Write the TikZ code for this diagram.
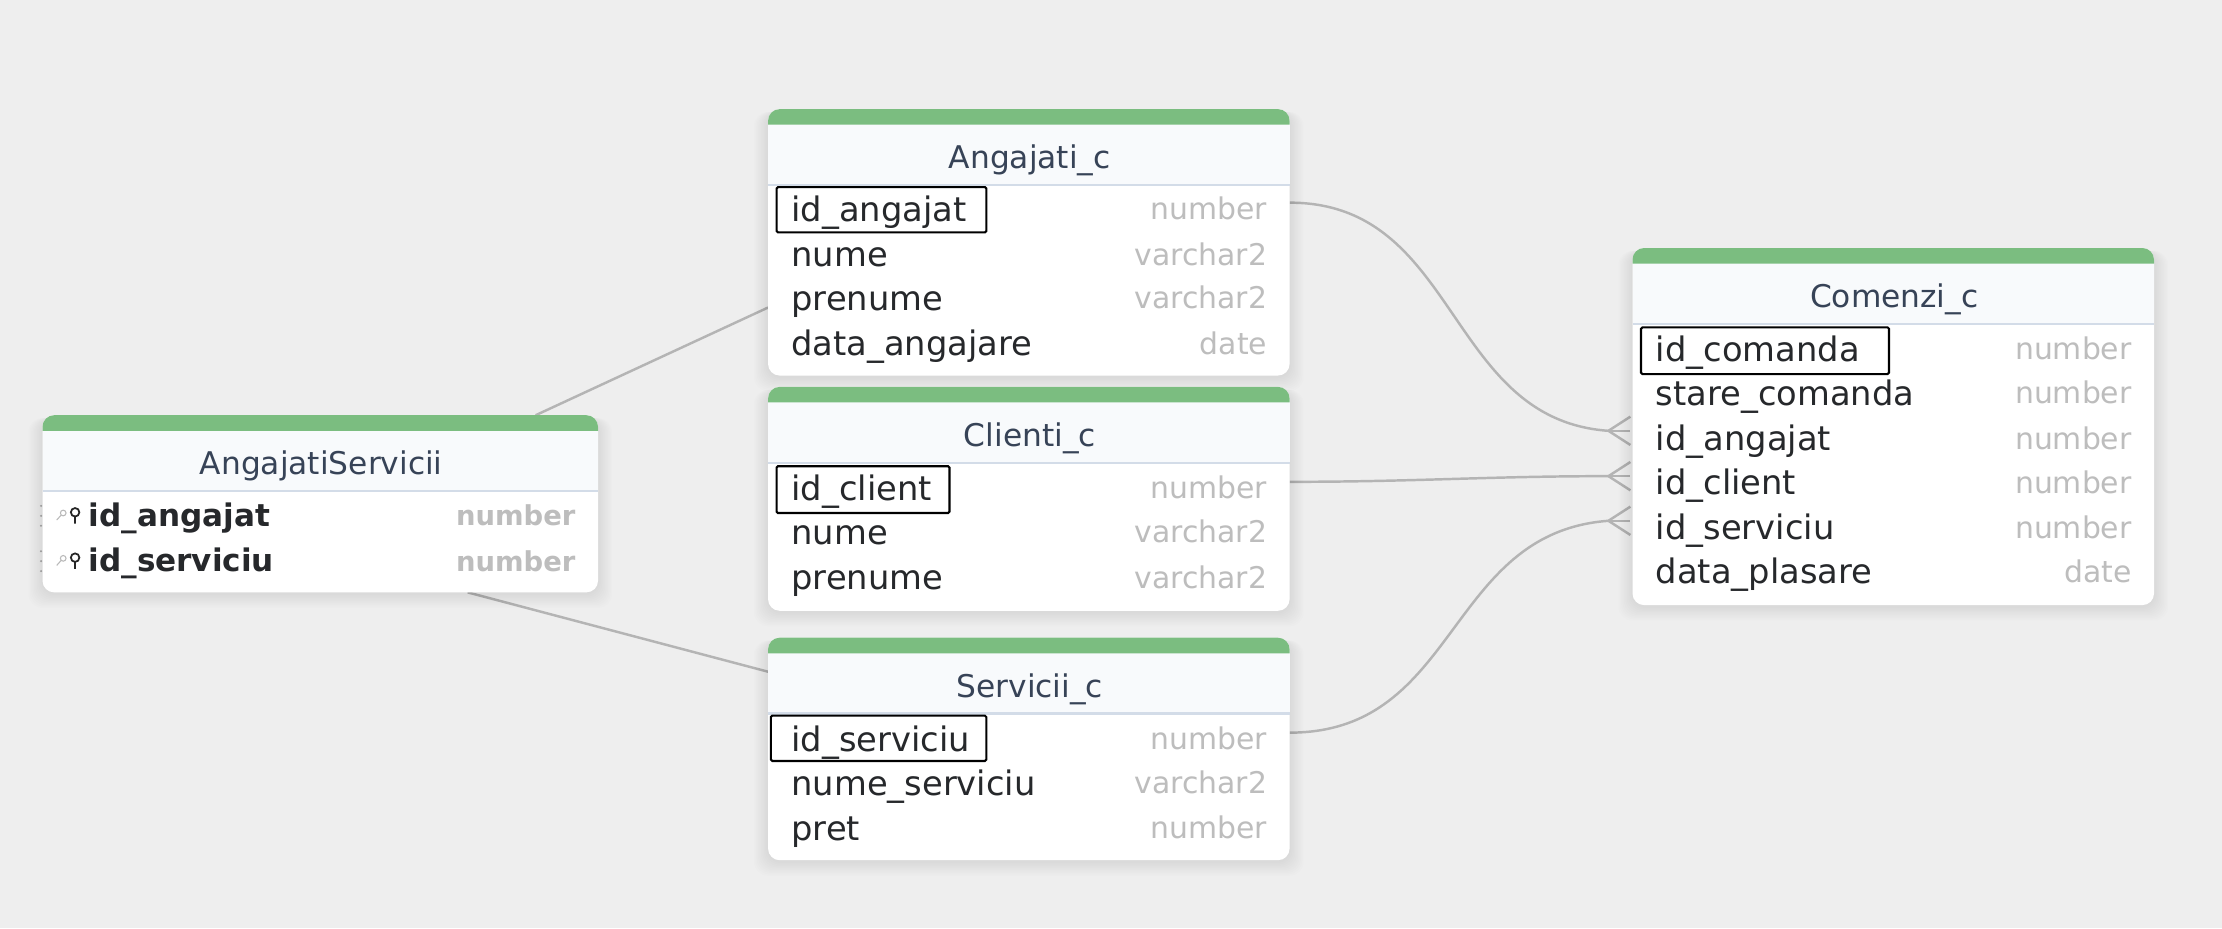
\documentclass[tikz,border=0pt]{standalone}
\usepackage{fontspec}
\setmainfont{DejaVu Sans}
\usetikzlibrary{fit}

\definecolor{canvasgray}{HTML}{EEEEEE}
\definecolor{bargreen}{HTML}{7BBD80}
\definecolor{headfill}{HTML}{F8FAFC}
\definecolor{headline}{HTML}{D3DCE8}
\definecolor{titleink}{HTML}{374357}
\definecolor{fieldink}{HTML}{26282B}
\definecolor{typeink}{HTML}{BDBDBD}
\definecolor{linkgray}{HTML}{B4B4B4}

\tikzset{
  card/.style={fill=white, rounded corners=3.3pt, inner sep=0pt},
  cardtitle/.style={font=\fontsize{8.9}{11}\selectfont, text=titleink, inner sep=0pt, anchor=base},
  fieldname/.style={font=\fontsize{9.6}{12}\selectfont, text=fieldink, inner sep=0pt, anchor=base west},
  fieldtype/.style={font=\fontsize{8.5}{11}\selectfont, text=typeink, inner sep=0pt, anchor=base east},
  pkname/.style={fieldname, font=\fontsize{8.85}{12}\selectfont\bfseries},
  pktype/.style={fieldtype, font=\fontsize{7.8}{11}\selectfont\bfseries, text=typeink},
  keybox/.style={draw=black, line width=0.6pt, rounded corners=0.4pt, inner sep=0pt},
  link/.style={draw=linkgray, line width=0.7pt}
}

% name, left, right, top, bottom, title
\newcommand{\tablecard}[6]{
  \foreach \s in {1,...,10} {
    \fill[black, opacity=0.006, rounded corners=4pt] ({#2-\s},{#4+2}) rectangle ({#3+\s},{#5+1+\s});
  }
  \node[card, fit={(#2,#4) (#3,#5)}] (#1) {};
  \fill[headfill] (#2,{#4+8}) rectangle (#3,{#4+53});
  \fill[bargreen] (#2,{#4+11}) [rounded corners=3.3pt] -- (#2,#4) -- (#3,#4) [sharp corners] -- (#3,{#4+11}) -- cycle;
  \draw[headline, line width=0.6pt] (#2,{#4+53.5}) -- (#3,{#4+53.5});
  \node[cardtitle] (#1title) at ({(#2+#3)/2+0.7},{#4+42}) {#6};
}

\newcommand{\crowfoot}[1]{
  \draw[link] (#1) -- ++(15.5,-10);
  \draw[link] (#1) -- ++(15.5,0);
  \draw[link] (#1) -- ++(15.5,10);
}

\newcommand{\keyicons}[1]{
  \draw[gray!55, line width=0.3pt] (44.6,{#1-2}) circle (2) (43.2,{#1-0.6}) -- (40,{#1+3});
  \draw[black!85, line width=0.5pt] (53,{#1-2.5}) circle (3) (53,{#1+0.5}) -- (53,{#1+5.5});
  \foreach \d in {-7,0,7} {
    \fill[gray!80] (29,{#1+\d}) circle (0.8);
  }
}

\begin{document}
\begin{tikzpicture}[x=0.01417cm, y=-0.01417cm]

  \fill[canvasgray] (0,0) rectangle (1568,654.9);
  \useasboundingbox (0,0) rectangle (1568,654.9);

  \coordinate (servAng) at (378,293);
  \coordinate (angajatiIn) at (542,217);
  \coordinate (servSer) at (330,418);
  \coordinate (serviciiIn) at (542,474);
  \coordinate (angajatiOut) at (910,143);
  \coordinate (clientiOut) at (910,340);
  \coordinate (serviciiOut) at (910,517);
  \coordinate (comAngajat) at (1135,304);
  \coordinate (comClient) at (1135,336);
  \coordinate (comServiciu) at (1135,367.5);

  \draw[link] (servAng) -- (angajatiIn);
  \draw[link] (servSer) -- (serviciiIn);
  \draw[link] (angajatiOut) .. controls (1030,143) and (1020,296) .. (comAngajat);
  \draw[link] (clientiOut) .. controls (1000,340) and (1050,336) .. (comClient);
  \draw[link] (serviciiOut) .. controls (1030,517) and (1020,376) .. (comServiciu);

  \crowfoot{comAngajat}
  \crowfoot{comClient}
  \crowfoot{comServiciu}

  \tablecard{angajati}{542}{910}{77}{265}{Angajati\_c}
  \tablecard{clienti}{542}{910}{273}{431}{Clienti\_c}
  \tablecard{servicii}{542}{910}{450}{607}{Servicii\_c}
  \tablecard{comenzi}{1152}{1520}{175}{427}{Comenzi\_c}
  \tablecard{angserv}{30}{422}{293}{418}{AngajatiServicii}

  \node[fieldname] (angajatiId) at (558,156) {id\_angajat};
  \node[fieldname] (angajatiNume) at (558,188) {nume};
  \node[fieldname] (angajatiPrenume) at (558,219) {prenume};
  \node[fieldname] (angajatiData) at (558,251) {data\_angajare};
  \node[fieldtype] (angajatiT1) at (894.7,155) {number};
  \node[fieldtype] (angajatiT2) at (894.7,187) {varchar2};
  \node[fieldtype] (angajatiT3) at (894.7,218) {varchar2};
  \node[fieldtype] (angajatiT4) at (894.7,250) {date};
  \node[keybox, fit={(548,132) (696,164)}] (angajatiKey) {};

  \node[fieldname] (clientiId) at (558,353) {id\_client};
  \node[fieldname] (clientiNume) at (558,384) {nume};
  \node[fieldname] (clientiPrenume) at (558,416) {prenume};
  \node[fieldtype] (clientiT1) at (894.7,352) {number};
  \node[fieldtype] (clientiT2) at (894.7,383) {varchar2};
  \node[fieldtype] (clientiT3) at (894.7,415) {varchar2};
  \node[keybox, fit={(548,329) (670,362)}] (clientiKey) {};

  \node[fieldname] (serviciiId) at (558,530) {id\_serviciu};
  \node[fieldname] (serviciiNume) at (558,561) {nume\_serviciu};
  \node[fieldname] (serviciiPret) at (558,593) {pret};
  \node[fieldtype] (serviciiT1) at (894.7,529) {number};
  \node[fieldtype] (serviciiT2) at (894.7,560) {varchar2};
  \node[fieldtype] (serviciiT3) at (894.7,592) {number};
  \node[keybox, fit={(544,505) (696,537)}] (serviciiKey) {};

  \node[fieldname] (comenziId) at (1168,255) {id\_comanda};
  \node[fieldname] (comenziStare) at (1168,286) {stare\_comanda};
  \node[fieldname] (comenziAngajat) at (1168,318) {id\_angajat};
  \node[fieldname] (comenziClient) at (1168,349) {id\_client};
  \node[fieldname] (comenziServiciu) at (1168,381) {id\_serviciu};
  \node[fieldname] (comenziData) at (1168,412) {data\_plasare};
  \node[fieldtype] (comenziT1) at (1504.7,254) {number};
  \node[fieldtype] (comenziT2) at (1504.7,285) {number};
  \node[fieldtype] (comenziT3) at (1504.7,317) {number};
  \node[fieldtype] (comenziT4) at (1504.7,348) {number};
  \node[fieldtype] (comenziT5) at (1504.7,380) {number};
  \node[fieldtype] (comenziT6) at (1504.7,411) {date};
  \node[keybox, fit={(1158,231) (1333,264)}] (comenziKey) {};

  \keyicons{364}
  \keyicons{396}
  \node[pkname] (angservAngajat) at (62,371.5) {id\_angajat};
  \node[pkname] (angservServiciu) at (62,403.5) {id\_serviciu};
  \node[pktype] (angservT1) at (406.5,371) {number};
  \node[pktype] (angservT2) at (406.5,403) {number};

\end{tikzpicture}
\end{document}
